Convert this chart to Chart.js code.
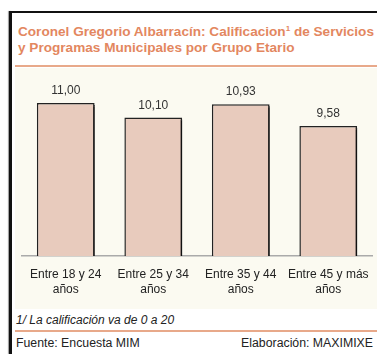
<!DOCTYPE html>
<html>
<head>
<meta charset="utf-8">
<script src="https://cdn.jsdelivr.net/npm/chart.js@4"></script>
<style>
  html, body { margin: 0; padding: 0; background: #fff; }
  body { width: 377px; height: 354px; position: relative; overflow: hidden; font-family: "Liberation Sans", Arial, sans-serif; }
  .marco-top { position: absolute; left: 9px; top: 11px; width: 368px; height: 2px; background: #111; }
  .marco-izq { position: absolute; left: 9px; top: 11px; width: 2.5px; height: 343px; background: #111; box-shadow: -1px 0 1px #999; }
  .titulo { position: absolute; left: 18px; top: 24px; color: #e3875f; font-weight: bold; font-size: 13.6px; line-height: 16px; white-space: nowrap; }
  .titulo sup { font-size: 8px; line-height: 0; vertical-align: 5px; }
  .linea { position: absolute; left: 15px; width: 362px; height: 2px; background: #e8a98a; }
  .area { position: absolute; left: 15px; top: 68px; width: 362px; height: 241px; background: #fbfaf1; }
  #grafico { position: absolute; left: 15px; top: 68px; }
  .nota { position: absolute; left: 16px; top: 313px; font-style: italic; font-size: 12px; color: #222; }
  .pie { position: absolute; top: 336px; font-size: 12.3px; color: #222; }
</style>
</head>
<body>
<div class="marco-top"></div>
<div class="marco-izq"></div>
<div class="titulo">Coronel Gregorio Albarracín: Calificacion<sup>1</sup> de Servicios<br>y Programas Municipales por Grupo Etario</div>
<div class="linea" style="top:65px"></div>
<div class="area"></div>
<canvas id="grafico" width="362" height="241"></canvas>
<div class="nota">1/ La calificación va de 0 a 20</div>
<div class="linea" style="top:330px"></div>
<div class="pie" style="left:16px">Fuente: Encuesta MIM</div>
<div class="pie" style="right:4px">Elaboración: MAXIMIXE</div>

<script>
const grupos = [['Entre 18 y 24', 'años'], ['Entre 25 y 34', 'años'], ['Entre 35 y 44', 'años'], ['Entre 45 y más', 'años']]
const calificacion = [11.00, 10.10, 10.93, 9.58]
const etiquetas = ['11,00', '10,10', '10,93', '9,58']

// sombra negra a la derecha de cada barra
const sombraBarras = {
  id: 'sombraBarras',
  beforeDatasetDraw(chart) {
    const ctx = chart.ctx
    ctx.save()
    ctx.shadowColor = '#111'
    ctx.shadowOffsetX = 3
    ctx.shadowOffsetY = 2
    ctx.shadowBlur = 0
  },
  afterDatasetDraw(chart) {
    chart.ctx.restore()
  }
}

// valores encima de las barras
const valores = {
  id: 'valores',
  afterDatasetsDraw(chart) {
    const ctx = chart.ctx
    ctx.save()
    ctx.font = '12px "Liberation Sans", Arial, sans-serif'
    ctx.fillStyle = '#333'
    ctx.textAlign = 'center'
    ctx.textBaseline = 'bottom'
    chart.getDatasetMeta(0).data.forEach((bar, i) => {
      ctx.fillText(etiquetas[i], bar.x, bar.y - 6)
    })
    ctx.restore()
  }
}

new Chart(document.getElementById('grafico'), {
  type: 'bar',
  data: {
    labels: grupos,
    datasets: [{
      data: calificacion,
      backgroundColor: '#e8cbbd',
      borderColor: '#222',
      borderWidth: 1.5,
      borderSkipped: 'bottom',
      barPercentage: 0.66,
      categoryPercentage: 1
    }]
  },
  options: {
    responsive: false,
    animation: false,
    layout: { padding: { left: 7, right: 5, top: 2, bottom: 9 } },
    plugins: { legend: { display: false }, tooltip: { enabled: false } },
    scales: {
      y: { display: false, min: 1.5, max: 13.05 },
      x: {
        grid: { display: false },
        border: { display: true, color: '#aaa', width: 1.5 },
        ticks: {
          color: '#222',
          padding: 3,
          maxRotation: 0,
          font: { family: '"Liberation Sans", Arial, sans-serif', size: 12, lineHeight: 1.25 }
        }
      }
    }
  },
  plugins: [sombraBarras, valores]
})
</script>
</body>
</html>
